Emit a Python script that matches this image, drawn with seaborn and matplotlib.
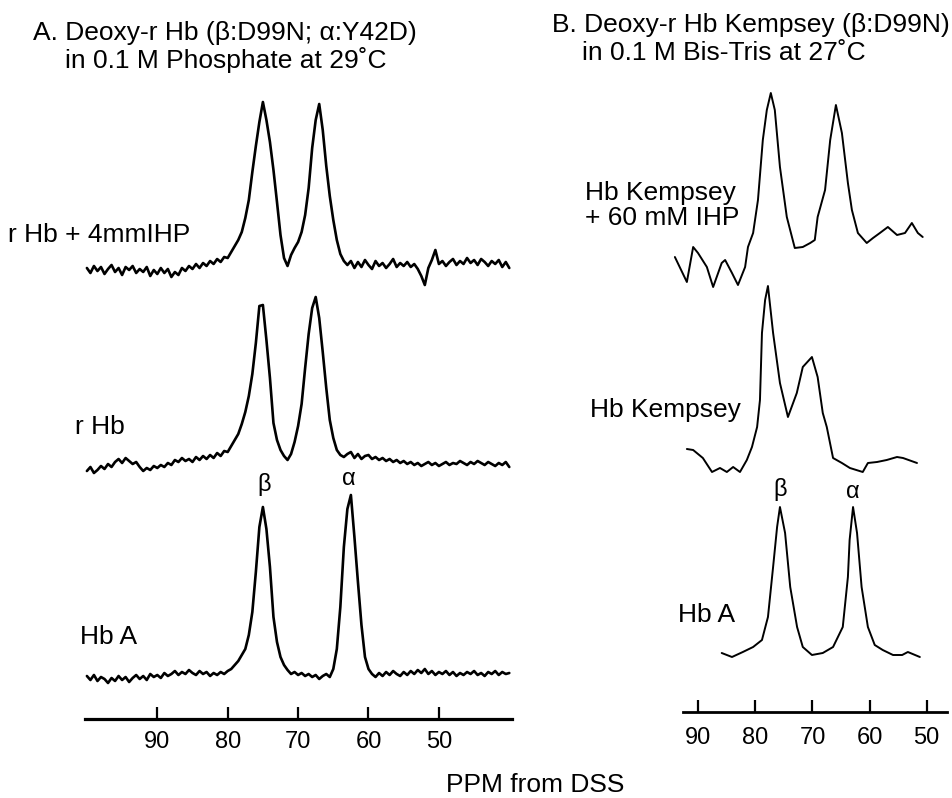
import numpy as np
import matplotlib
matplotlib.use("Agg")
import matplotlib.pyplot as plt
import seaborn as sns

# ---- data: NMR traces (intensity in arbitrary units) ----
# panel A: all three traces share one ppm grid (100 -> 40 ppm, 0.5 ppm step)
ppm_a = np.arange(100.0, 39.9, -0.5)

a_ihp = [2, -3, 4, -1, 3, -4, 1, 5, -2, 2,
         -5, 3, 0, 4, -3, 1, -2, 3, -6, 0,
         -4, 2, -3, 1, -7, -2, -5, 2, -1, 4,
         1, 6, 2, 7, 4, 9, 6, 11, 8, 13,
         12, 18, 24, 30, 38, 52, 70, 98, 124, 148,
         168, 150, 128, 100, 68, 35, 12, 4, 15, 22,
         28, 38, 55, 82, 122, 150, 166, 140, 104, 74,
         50, 30, 16, 9, 5, 9, 2, 8, 3, 10,
         5, 1, 9, 4, 7, 2, 6, 11, 3, 7,
         4, 8, 3, 6, 1, -6, -15, 2, 10, 20,
         6, 9, 4, 8, 11, 5, 9, 6, 12, 7,
         10, 5, 11, 8, 4, 9, 6, 10, 3, 8,
         2]

a_rhb = [-3, 1, -5, -2, 2, -1, 4, 1, 6, 9,
         5, 10, 7, 4, 6, 1, -3, 0, -2, 2,
         0, 3, 1, 5, 3, 8, 6, 10, 7, 9,
         6, 11, 8, 12, 9, 13, 10, 15, 12, 17,
         16, 22, 28, 34, 44, 56, 72, 94, 125, 162,
         163, 128, 90, 45, 28, 18, 12, 8, 14, 26,
         42, 64, 100, 134, 160, 171, 150, 116, 80, 48,
         30, 18, 13, 11, 14, 16, 10, 14, 9, 12,
         13, 9, 11, 8, 10, 7, 9, 6, 8, 5,
         7, 4, 6, 3, 5, 2, 4, 6, 3, 5,
         2, 4, 6, 3, 5, 4, 7, 5, 3, 6,
         4, 7, 5, 3, 6, 4, 2, 5, 3, 6,
         1]

a_hba = [1, -3, 2, -4, 0, -2, -6, -1, -4, 1,
         -3, 0, -5, -1, 2, -2, 1, -3, 3, 0,
         2, -1, 4, 1, 3, 6, 2, 5, 3, 7,
         4, 2, 6, 3, 5, 1, 4, 2, 5, 3,
         6, 8, 12, 16, 22, 28, 42, 65, 105, 150,
         170, 148, 110, 60, 35, 20, 12, 7, 3, 5,
         2, 4, 1, 3, 0, 2, -2, 1, 3, 0,
         8, 28, 70, 130, 168, 182, 140, 95, 52, 20,
         8, 3, 0, 4, 1, 5, 2, 6, 3, 1,
         5, 2, 6, 3, 7, 4, 8, 3, 6, 2,
         5, 3, 6, 2, 5, 1, 4, 2, 5, 3,
         6, 2, 4, 1, 5, 3, 6, 2, 5, 3,
         4]

# panel B: each trace has its own ppm points
b_ihp_ppm = [94.1, 92.0, 90.9, 90.05, 88.5, 87.4, 85.9, 85.3, 84.1, 83.05,
             81.8, 81.3, 80.4, 79.55, 78.7, 78.0, 77.3, 76.6, 75.7, 74.5,
             73.1, 71.7, 70.4, 69.6, 69.1, 67.8, 66.9, 65.9, 64.85, 63.8,
             63.1, 62.05, 60.5, 59.4, 58.2, 56.8, 55.2, 53.8, 52.6, 51.55, 50.7]
b_ihp = [-17, -42, -7, -13, -27, -47, -23, -20, -33, -45,
         -27, -7, 7, 40, 100, 130, 147, 130, 73, 23,
         -8, -7, -3, 0, 23, 50, 100, 135, 107, 57,
         30, 7, -3, 2, 7, 13, 5, 7, 17, 7, 3]

b_kem_ppm = [92.0, 90.9, 89.2, 87.6, 86.2, 85.0, 83.9, 82.7, 81.5, 80.6,
             79.7, 79.2, 78.85, 78.3, 77.8, 76.9, 75.7, 74.3, 72.75, 71.7,
             70.1, 69.1, 68.2, 67.5, 66.4, 64.85, 63.45, 61.2, 60.3, 58.7,
             57.0, 55.2, 54.15, 51.7]
b_kem = [13, 12, 4, -10, -6, -10, -5, -10, 2, 15,
         35, 62, 129, 162, 176, 129, 79, 45, 69, 95,
         105, 85, 49, 35, 4, -1, -6, -10, -1, 0,
         2, 5, 4, -1]

b_hba_ppm = [85.9, 84.1, 82.2, 80.4, 78.85, 77.8, 76.9, 76.2, 75.7, 74.8,
             73.9, 72.7, 71.7, 70.1, 68.2, 66.4, 64.7, 63.8, 63.5, 62.9,
             62.2, 61.4, 60.3, 59.1, 57.7, 55.9, 54.3, 53.3, 51.2]
b_hba = [0, -4, 1, 6, 13, 36, 86, 126, 146, 120,
         66, 26, 6, -2, 0, 6, 26, 76, 113, 146,
         120, 66, 26, 8, 3, -2, -2, 1, -4]

ticks = [90, 80, 70, 60, 50]

# ---- plot ----
sns.set_style("white")
plt.rcParams['font.family'] = ['Liberation Sans', 'DejaVu Sans']
plt.rcParams['text.color'] = 'black'
plt.rcParams['xtick.color'] = 'black'

W, H = 952, 798
fig = plt.figure(figsize=(W / 100, H / 100), dpi=100)


def px_axes(x0, y0, x1, y1):
    return fig.add_axes([x0 / W, 1 - y1 / H, (x1 - x0) / W, (y1 - y0) / H])


def ftext(x, y, s, **kw):
    fig.text(x / W, 1 - y / H, s, va='center', color='black', **kw)


axA = px_axes(80, 90, 515, 719)
axB = px_axes(665, 80, 952, 712)

# stacked traces (offset = baseline height within the panel)
for vals, off in [(a_ihp, 449), (a_rhb, 251), (a_hba, 42)]:
    sns.lineplot(x=ppm_a, y=np.array(vals) + off, ax=axA, color='black',
                 lw=1.9, sort=False, estimator=None)

for xs, vals, off in [(b_ihp_ppm, b_ihp, 472), (b_kem_ppm, b_kem, 250),
                      (b_hba_ppm, b_hba, 59)]:
    sns.lineplot(x=xs, y=np.array(vals) + off, ax=axB, color='black',
                 lw=1.4, sort=False, estimator=None)

axA.set_xlim(100.98, 39.19)
axA.set_ylim(0, 629)
axB.set_xlim(95.83, 45.57)
axB.set_ylim(0, 632)

for ax, bounds, lw, pad in [(axA, (100.3, 39.6), 2.3, 9), (axB, (92.6, 46.4), 2.0, 11)]:
    sns.despine(ax=ax, left=True)
    ax.patch.set_alpha(0)
    ax.spines['bottom'].set_bounds(*bounds)
    ax.spines['bottom'].set_linewidth(lw)
    ax.spines['bottom'].set_color('black')
    ax.set_xticks(ticks)
    ax.set_xticklabels([str(t) for t in ticks])
    ax.set_yticks([])
    ax.set_xlabel('')
    ax.set_ylabel('')
    ax.tick_params(axis='x', bottom=True, direction='in', length=9, width=1.6,
                   labelsize=17, pad=pad, colors='black')

# peak assignments
axA.text(74.8, 235, 'β', ha='center', va='center', fontsize=17)
axA.text(62.8, 240, 'α', ha='center', va='center', fontsize=17)
axB.text(75.7, 222, 'β', ha='center', va='center', fontsize=17)
axB.text(62.9, 220, 'α', ha='center', va='center', fontsize=17)

# titles
ftext(33, 33, 'A. Deoxy-r Hb (β:D99N; α:Y42D)', fontsize=19)
ftext(65, 60, 'in 0.1 M Phosphate at 29˚C', fontsize=19)
ftext(552, 25, 'B. Deoxy-r Hb Kempsey (β:D99N)', fontsize=19)
ftext(582, 53, 'in 0.1 M Bis-Tris at 27˚C', fontsize=19)

# sample labels
ftext(8, 235, 'r Hb + 4mmIHP', fontsize=19)
ftext(75, 427, 'r Hb', fontsize=19)
ftext(80, 637, 'Hb A', fontsize=19)
ftext(585, 193, 'Hb Kempsey', fontsize=19)
ftext(585, 218, '+ 60 mM IHP', fontsize=19)
ftext(590, 410, 'Hb Kempsey', fontsize=19)
ftext(678, 615, 'Hb A', fontsize=19)

ftext(535, 785, 'PPM from DSS', fontsize=19, ha='center')

fig.savefig('out.png', dpi=100)
